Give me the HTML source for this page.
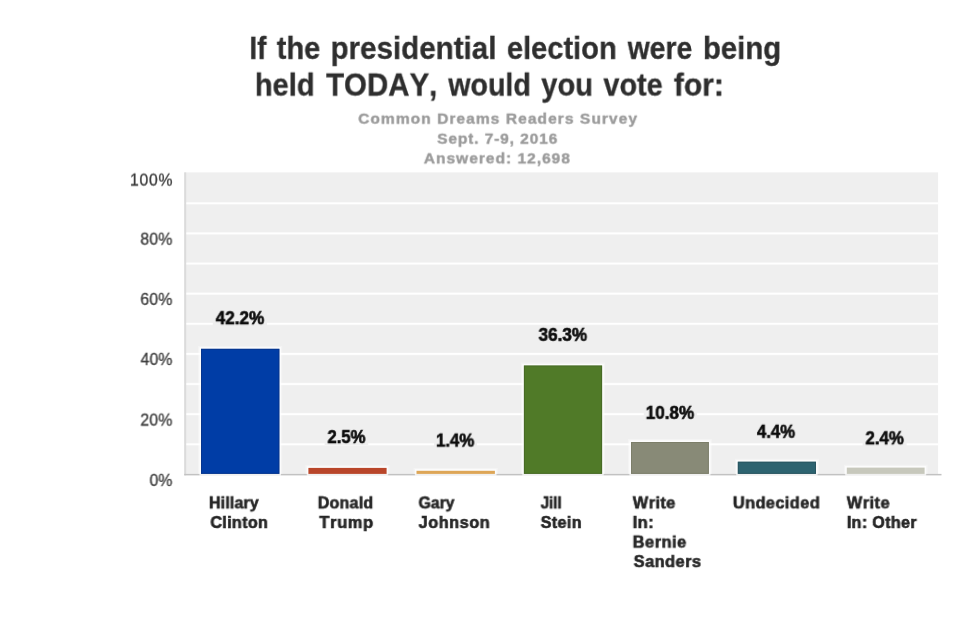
<!DOCTYPE html>
<html lang="en">
<head>
<meta charset="utf-8">
<title>If the presidential election were being held TODAY, would you vote for:</title>
<style>
html,body{margin:0;padding:0;background:#fff;}
body{width:980px;height:629px;overflow:hidden;position:relative;font-family:"Liberation Sans", Arial, Helvetica, sans-serif;}
#chart{position:absolute;left:0;top:0;width:980px;height:629px;overflow:hidden;}
#chart svg{position:absolute;left:0;top:0;display:block;}
.t{position:absolute;left:0;top:0;white-space:pre;font-kerning:none;line-height:40px;height:40px;margin:0;padding:0;transform-origin:0 0;}
.title{font-size:31.3px;font-weight:bold;color:#2e2e2e;-webkit-text-stroke:0.3px #2e2e2e;}
.sub{font-size:15.5px;font-weight:bold;color:#9a9a9a;-webkit-text-stroke:0.4px #9a9a9a;}
.yl{font-size:15.8px;font-weight:normal;color:#3a3a3a;-webkit-text-stroke:0.3px #3a3a3a;}
.dl{font-size:17.45px;font-weight:bold;color:#0c0c0c;-webkit-text-stroke:0.6px #0c0c0c;}
.xl{font-size:15.6px;font-weight:bold;color:#262626;-webkit-text-stroke:0.6px #262626;}
</style>
</head>
<body>
<div id="chart">
<svg width="980" height="629" viewBox="0 0 980 629" shape-rendering="geometricPrecision">
<rect x="184.2" y="172.4" width="753.9" height="301.7" fill="#efefef"/>
<rect x="184.2" y="201.80" width="753.9" height="3" fill="#fff" fill-opacity="0.3"/>
<rect x="184.2" y="202.45" width="753.9" height="1.7" fill="#fff"/>
<rect x="184.2" y="231.93" width="753.9" height="3" fill="#fff" fill-opacity="0.3"/>
<rect x="184.2" y="232.58" width="753.9" height="1.7" fill="#fff"/>
<rect x="184.2" y="262.05" width="753.9" height="3" fill="#fff" fill-opacity="0.3"/>
<rect x="184.2" y="262.70" width="753.9" height="1.7" fill="#fff"/>
<rect x="184.2" y="292.18" width="753.9" height="3" fill="#fff" fill-opacity="0.3"/>
<rect x="184.2" y="292.83" width="753.9" height="1.7" fill="#fff"/>
<rect x="184.2" y="322.30" width="753.9" height="3" fill="#fff" fill-opacity="0.3"/>
<rect x="184.2" y="322.95" width="753.9" height="1.7" fill="#fff"/>
<rect x="184.2" y="352.43" width="753.9" height="3" fill="#fff" fill-opacity="0.3"/>
<rect x="184.2" y="353.08" width="753.9" height="1.7" fill="#fff"/>
<rect x="184.2" y="382.55" width="753.9" height="3" fill="#fff" fill-opacity="0.3"/>
<rect x="184.2" y="383.20" width="753.9" height="1.7" fill="#fff"/>
<rect x="184.2" y="412.68" width="753.9" height="3" fill="#fff" fill-opacity="0.3"/>
<rect x="184.2" y="413.33" width="753.9" height="1.7" fill="#fff"/>
<rect x="184.2" y="442.80" width="753.9" height="3" fill="#fff" fill-opacity="0.3"/>
<rect x="184.2" y="443.45" width="753.9" height="1.7" fill="#fff"/>
<rect x="212.8" y="309.7" width="54.2" height="16.5" fill="#efefef"/>
<rect x="324.6" y="428.6" width="43.6" height="16.5" fill="#efefef"/>
<rect x="434.1" y="432.1" width="42.9" height="16.5" fill="#efefef"/>
<rect x="535.7" y="326.4" width="54.1" height="16.5" fill="#efefef"/>
<rect x="643.8" y="404.4" width="53.1" height="16.5" fill="#efefef"/>
<rect x="754.1" y="423.3" width="43.7" height="16.5" fill="#efefef"/>
<rect x="862.6" y="429.8" width="44.0" height="16.5" fill="#efefef"/>
<rect x="184.2" y="172.4" width="2" height="302.9" fill="#dbdbdb"/>
<rect x="184.2" y="473.9" width="757.3" height="1.5" fill="#c2c2c2"/>
<rect x="198.0" y="345.8" width="84.4" height="128.3" fill="#fff" fill-opacity="0.3"/>
<rect x="199.4" y="347.2" width="81.6" height="128.5" fill="#fff" fill-opacity="0.75"/>
<rect x="201.0" y="348.8" width="78.4" height="125.1" fill="#003da6"/>
<rect x="201.5" y="349.3" width="77.4" height="124.1" fill="none" stroke="#0a2f7a" stroke-width="1" stroke-opacity="0.55"/>
<rect x="305.4" y="464.9" width="84.2" height="9.2" fill="#fff" fill-opacity="0.3"/>
<rect x="306.8" y="466.3" width="81.4" height="9.4" fill="#fff" fill-opacity="0.75"/>
<rect x="308.4" y="467.9" width="78.2" height="6.0" fill="#b9462a"/>
<rect x="413.5" y="467.8" width="84.4" height="6.3" fill="#fff" fill-opacity="0.3"/>
<rect x="414.9" y="469.2" width="81.6" height="6.5" fill="#fff" fill-opacity="0.75"/>
<rect x="416.5" y="470.8" width="78.4" height="3.1" fill="#dda657"/>
<rect x="520.9" y="362.5" width="84.2" height="111.6" fill="#fff" fill-opacity="0.3"/>
<rect x="522.3" y="363.9" width="81.4" height="111.8" fill="#fff" fill-opacity="0.75"/>
<rect x="523.9" y="365.5" width="78.2" height="108.4" fill="#507a28"/>
<rect x="524.4" y="366.0" width="77.2" height="107.4" fill="none" stroke="#3f5f22" stroke-width="1" stroke-opacity="0.55"/>
<rect x="628.0" y="439.0" width="83.9" height="35.1" fill="#fff" fill-opacity="0.3"/>
<rect x="629.4" y="440.4" width="81.1" height="35.3" fill="#fff" fill-opacity="0.75"/>
<rect x="631.0" y="442.0" width="77.9" height="31.9" fill="#888a77"/>
<rect x="631.5" y="442.5" width="76.9" height="30.9" fill="none" stroke="#73755f" stroke-width="1" stroke-opacity="0.55"/>
<rect x="734.8" y="458.7" width="84.2" height="15.4" fill="#fff" fill-opacity="0.3"/>
<rect x="736.2" y="460.1" width="81.4" height="15.6" fill="#fff" fill-opacity="0.75"/>
<rect x="737.8" y="461.7" width="78.2" height="12.2" fill="#2d6370"/>
<rect x="738.3" y="462.2" width="77.2" height="11.2" fill="none" stroke="#264a54" stroke-width="1" stroke-opacity="0.55"/>
<rect x="843.8" y="464.6" width="83.8" height="9.5" fill="#fff" fill-opacity="0.3"/>
<rect x="845.2" y="466.0" width="81.0" height="9.7" fill="#fff" fill-opacity="0.75"/>
<rect x="846.8" y="467.6" width="77.8" height="6.3" fill="#c7c8bc"/>
</svg>
<span id="t0" class="t title" style="transform:translate(249.47px,28.90px) perspective(100000px) rotateX(0.01deg) scaleX(0.8836)">If</span>
<span id="t1" class="t title" style="transform:translate(276.74px,28.90px) perspective(100000px) rotateX(0.01deg) scaleX(0.9287)">the</span>
<span id="t2" class="t title" style="transform:translate(330.55px,28.90px) perspective(100000px) rotateX(0.01deg) scaleX(0.9445)">presidential</span>
<span id="t3" class="t title" style="transform:translate(506.91px,28.90px) perspective(100000px) rotateX(0.01deg) scaleX(0.9283)">election</span>
<span id="t4" class="t title" style="transform:translate(627.74px,28.90px) perspective(100000px) rotateX(0.01deg) scaleX(0.9041)">were</span>
<span id="t5" class="t title" style="transform:translate(702.97px,28.90px) perspective(100000px) rotateX(0.01deg) scaleX(0.9375)">being</span>
<span id="t6" class="t title" style="transform:translate(254.88px,65.60px) perspective(100000px) rotateX(0.01deg) scaleX(0.9282)">held</span>
<span id="t7" class="t title" style="transform:translate(326.14px,65.60px) perspective(100000px) rotateX(0.01deg) scaleX(0.9406)">TODAY,</span>
<span id="t8" class="t title" style="transform:translate(448.35px,65.60px) perspective(100000px) rotateX(0.01deg) scaleX(0.9131)">would</span>
<span id="t9" class="t title" style="transform:translate(541.24px,65.60px) perspective(100000px) rotateX(0.01deg) scaleX(0.9303)">you</span>
<span id="t10" class="t title" style="transform:translate(603.44px,65.60px) perspective(100000px) rotateX(0.01deg) scaleX(0.9199)">vote</span>
<span id="t11" class="t title" style="transform:translate(673.84px,65.60px) perspective(100000px) rotateX(0.01deg) scaleX(0.9596)">for:</span>
<span id="t12" class="t sub" style="transform:translate(358.20px,98.70px) perspective(100000px) rotateX(0.01deg);letter-spacing:1.074px">Common Dreams Readers Survey</span>
<span id="t13" class="t sub" style="transform:translate(437.20px,118.70px) perspective(100000px) rotateX(0.01deg);letter-spacing:0.880px">Sept. 7-9, 2016</span>
<span id="t14" class="t sub" style="transform:translate(423.80px,138.40px) perspective(100000px) rotateX(0.01deg);letter-spacing:1.011px">Answered: 12,698</span>
<span id="t15" class="t yl" style="transform:translate(129.95px,160.60px) perspective(100000px) rotateX(0.01deg);letter-spacing:0.681px">100%</span>
<span id="t16" class="t yl" style="transform:translate(140.35px,219.70px) perspective(100000px) rotateX(0.01deg);letter-spacing:0.215px">80%</span>
<span id="t17" class="t yl" style="transform:translate(140.35px,279.90px) perspective(100000px) rotateX(0.01deg);letter-spacing:0.215px">60%</span>
<span id="t18" class="t yl" style="transform:translate(140.55px,339.90px) perspective(100000px) rotateX(0.01deg);letter-spacing:0.115px">40%</span>
<span id="t19" class="t yl" style="transform:translate(140.35px,400.60px) perspective(100000px) rotateX(0.01deg);letter-spacing:0.215px">20%</span>
<span id="t20" class="t yl" style="transform:translate(149.55px,460.90px) perspective(100000px) rotateX(0.01deg);letter-spacing:0.015px">0%</span>
<span id="t21" class="t dl" style="transform:translate(215.69px,298.20px) perspective(100000px) rotateX(0.01deg) scaleX(0.9814)">42.2%</span>
<span id="t22" class="t dl" style="transform:translate(327.49px,417.10px) perspective(100000px) rotateX(0.01deg) scaleX(0.9549)">2.5%</span>
<span id="t23" class="t dl" style="transform:translate(436.03px,420.60px) perspective(100000px) rotateX(0.01deg) scaleX(0.9613)">1.4%</span>
<span id="t24" class="t dl" style="transform:translate(538.59px,314.90px) perspective(100000px) rotateX(0.01deg) scaleX(0.9795)">36.3%</span>
<span id="t25" class="t dl" style="transform:translate(645.71px,392.90px) perspective(100000px) rotateX(0.01deg) scaleX(0.9790)">10.8%</span>
<span id="t26" class="t dl" style="transform:translate(756.99px,411.80px) perspective(100000px) rotateX(0.01deg) scaleX(0.9574)">4.4%</span>
<span id="t27" class="t dl" style="transform:translate(865.49px,418.30px) perspective(100000px) rotateX(0.01deg) scaleX(0.9647)">2.4%</span>
<span id="t28" class="t xl" style="transform:translate(208.99px,483.40px) perspective(100000px) rotateX(0.01deg) scaleX(1.0208);letter-spacing:0.165px">Hillary</span>
<span id="t29" class="t xl" style="transform:translate(210.41px,503.00px) perspective(100000px) rotateX(0.01deg) scaleX(1.0341);letter-spacing:0.306px">Clinton</span>
<span id="t30" class="t xl" style="transform:translate(317.78px,483.40px) perspective(100000px) rotateX(0.01deg) scaleX(1.0246);letter-spacing:0.255px">Donald</span>
<span id="t31" class="t xl" style="transform:translate(319.32px,503.00px) perspective(100000px) rotateX(0.01deg) scaleX(1.0543);letter-spacing:0.659px">Trump</span>
<span id="t32" class="t xl" style="transform:translate(418.60px,483.40px) perspective(100000px) rotateX(0.01deg) scaleX(1.0031);letter-spacing:0.038px">Gary</span>
<span id="t33" class="t xl" style="transform:translate(418.61px,503.00px) perspective(100000px) rotateX(0.01deg) scaleX(1.0455);letter-spacing:0.493px">Johnson</span>
<span id="t34" class="t xl" style="transform:translate(540.69px,483.40px) perspective(100000px) rotateX(0.01deg) scaleX(0.9807);letter-spacing:-0.141px">Jill</span>
<span id="t35" class="t xl" style="transform:translate(540.71px,503.00px) perspective(100000px) rotateX(0.01deg) scaleX(1.0335);letter-spacing:0.320px">Stein</span>
<span id="t36" class="t xl" style="transform:translate(632.81px,483.40px) perspective(100000px) rotateX(0.01deg) scaleX(1.0440);letter-spacing:0.439px">Write</span>
<span id="t37" class="t xl" style="transform:translate(632.66px,503.00px) perspective(100000px) rotateX(0.01deg) scaleX(1.0514);letter-spacing:0.449px">In:</span>
<span id="t38" class="t xl" style="transform:translate(632.66px,522.60px) perspective(100000px) rotateX(0.01deg) scaleX(1.0517);letter-spacing:0.501px">Bernie</span>
<span id="t39" class="t xl" style="transform:translate(633.71px,542.10px) perspective(100000px) rotateX(0.01deg) scaleX(1.0457);letter-spacing:0.475px">Sanders</span>
<span id="t40" class="t xl" style="transform:translate(732.91px,483.40px) perspective(100000px) rotateX(0.01deg) scaleX(1.0436);letter-spacing:0.435px">Undecided</span>
<span id="t41" class="t xl" style="transform:translate(846.81px,483.40px) perspective(100000px) rotateX(0.01deg) scaleX(1.0464);letter-spacing:0.463px">Write</span>
<span id="t42" class="t xl" style="transform:translate(846.87px,503.00px) perspective(100000px) rotateX(0.01deg) scaleX(1.0358);letter-spacing:0.288px">In: Other</span>
</div>
</body>
</html>
